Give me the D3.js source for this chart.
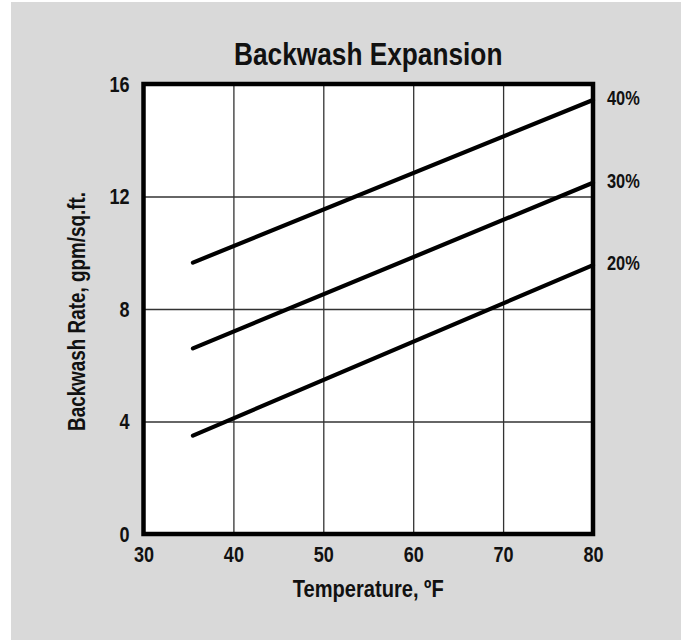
<!DOCTYPE html>
<html>
<head>
<meta charset="utf-8">
<script src="https://cdn.jsdelivr.net/npm/d3@7"></script>
<style>
  html, body { margin: 0; padding: 0; background: #ffffff; }
  svg { display: block; }
  text { font-family: "Liberation Sans Narrow", "Arial Narrow", "Liberation Sans", Arial, sans-serif; font-weight: bold; fill: #111; }
</style>
</head>
<body>
<svg id="chart" width="684" height="640"></svg>
<script>
// ---- data ----
const title = "Backwash Expansion";
const xLabel = "Temperature, ºF";
const yLabel = "Backwash Rate, gpm/sq.ft.";
const xTicks = [30, 40, 50, 60, 70, 80];
const yTicks = [0, 4, 8, 12, 16];
const seriesNames = ["40%", "30%", "20%"];
const temps = [35.5, 80];
const rate40 = [9.65, 15.43];
const rate30 = [6.6, 12.49];
const rate20 = [3.5, 9.56];
const seriesValues = [rate40, rate30, rate20];

// ---- layout ----
const svg = d3.select("#chart");
const plot = { left: 143.5, right: 593, top: 84, bottom: 534 };

svg.append("rect").attr("x", 11).attr("y", 2).attr("width", 670).attr("height", 638).attr("fill", "#d9d9d9");

const x = d3.scaleLinear().domain([30, 80]).range([plot.left, plot.right]);
const y = d3.scaleLinear().domain([0, 16]).range([plot.bottom, plot.top]);

// plot background
svg.append("rect").attr("x", plot.left).attr("y", plot.top)
  .attr("width", plot.right - plot.left).attr("height", plot.bottom - plot.top)
  .attr("fill", "#ffffff");

// gridlines
const gx = svg.append("g").attr("transform", `translate(0,${plot.bottom})`)
  .call(d3.axisBottom(x).tickValues(xTicks).tickSize(-(plot.bottom - plot.top)).tickFormat(""));
gx.select(".domain").remove();
gx.selectAll("line").attr("stroke", "#333").attr("stroke-width", 1.3);

const gy = svg.append("g").attr("transform", `translate(${plot.left},0)`)
  .call(d3.axisLeft(y).tickValues(yTicks).tickSize(-(plot.right - plot.left)).tickFormat(""));
gy.select(".domain").remove();
gy.selectAll("line").attr("stroke", "#333").attr("stroke-width", 1.3);

// tick labels
const ax = svg.append("g").attr("transform", `translate(0,${plot.bottom})`)
  .call(d3.axisBottom(x).tickValues(xTicks).tickSize(0).tickPadding(12).tickFormat(d3.format("d")));
ax.select(".domain").remove();
ax.attr("font-family", null).attr("font-size", null);
ax.selectAll("text").attr("font-size", 22).attr("fill", "#111");

const ay = svg.append("g").attr("transform", `translate(${plot.left},0)`)
  .call(d3.axisLeft(y).tickValues(yTicks).tickSize(0).tickPadding(14).tickFormat(d3.format("d")));
ay.select(".domain").remove();
ay.attr("font-family", null).attr("font-size", null);
ay.selectAll("text").attr("font-size", 22).attr("fill", "#111");

// series lines
const line = d3.line().x((d, i) => x(temps[i])).y(d => y(d));
seriesValues.forEach((vals) => {
  svg.append("path").datum(vals).attr("d", line)
    .attr("fill", "none").attr("stroke", "#000").attr("stroke-width", 4.2).attr("stroke-linecap", "round");
});

// frame
svg.append("rect").attr("x", plot.left).attr("y", plot.top)
  .attr("width", plot.right - plot.left).attr("height", plot.bottom - plot.top)
  .attr("fill", "none").attr("stroke", "#000").attr("stroke-width", 4.5);

// series labels
seriesValues.forEach((vals, i) => {
  svg.append("text").attr("x", plot.right + 14).attr("y", y(vals[1]) + 5)
    .attr("font-size", 20).text(seriesNames[i]);
});

// title
svg.append("text").attr("x", (plot.left + plot.right) / 2).attr("y", 65)
  .attr("text-anchor", "middle").attr("font-size", 32).text(title);

// x axis label
svg.append("text").attr("x", (plot.left + plot.right) / 2).attr("y", 597)
  .attr("text-anchor", "middle").attr("font-size", 24.5).text(xLabel);

// y axis label
svg.append("text").attr("transform", `translate(85,${(plot.top + plot.bottom) / 2 + 2.5}) rotate(-90)`)
  .attr("text-anchor", "middle").attr("font-size", 23).text(yLabel);

// condense all text to mimic a narrow bold face
svg.selectAll("text").each(function () {
  const len = this.getComputedTextLength();
  d3.select(this).attr("textLength", len * 0.82).attr("lengthAdjust", "spacingAndGlyphs");
});
</script>
</body>
</html>
